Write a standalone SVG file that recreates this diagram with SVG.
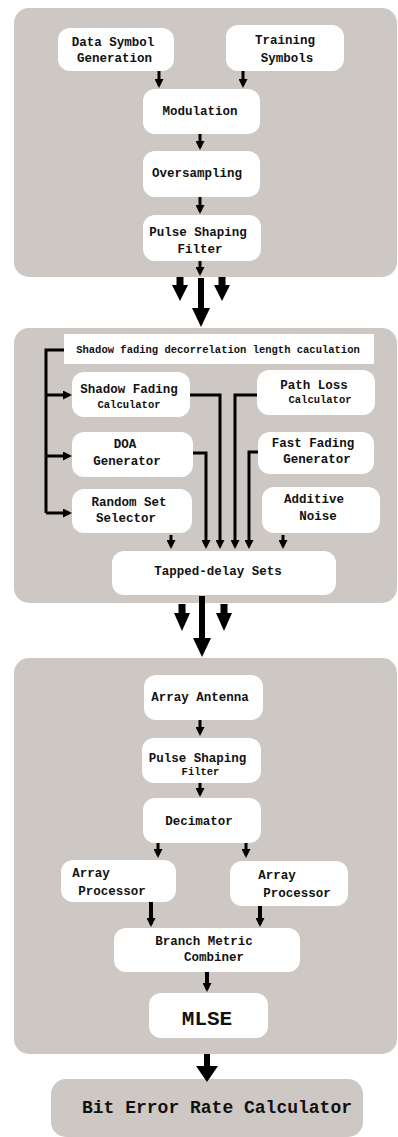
<svg xmlns="http://www.w3.org/2000/svg" width="398" height="1137" viewBox="0 0 398 1137">
<defs>
<style>
.panel{fill:#cdc8c4}
.box{fill:#ffffff}
text{font-family:"Liberation Mono","Courier New",monospace;font-weight:bold;fill:#111;text-anchor:middle}
.t{font-size:12.5px}
.s{font-size:10.5px}
.c{fill:none;stroke:#000;stroke-width:3}
.big{fill:#000}
</style>
<marker id="ah" markerUnits="userSpaceOnUse" markerWidth="9" markerHeight="9" viewBox="0 0 9 9" refX="6" refY="4.5" orient="auto">
<path d="M0,0 L9,4.5 L0,9 z" fill="#000"/>
</marker>
</defs>
<rect width="398" height="1137" fill="#fff"/>

<g id="panel-tx"><rect class="panel" x="14" y="8" width="383" height="269" rx="15"/></g>
<g id="panel-channel"><rect class="panel" x="14" y="328" width="383" height="275" rx="15"/></g>
<g id="panel-rx"><rect class="panel" x="14" y="658" width="383" height="396" rx="15"/></g>

<g id="data-symbol"><rect class="box" x="58" y="28" width="116" height="43" rx="12"/>
<text class="t" x="113" y="46">Data Symbol</text><text class="t" x="114.5" y="62">Generation</text></g>
<g id="training"><rect class="box" x="226" y="25" width="118" height="46" rx="12"/>
<text class="t" x="285" y="44">Training</text><text class="t" x="287" y="62">Symbols</text></g>
<g id="modulation"><rect class="box" x="143" y="89" width="117" height="45" rx="12"/>
<text class="t" x="200" y="115">Modulation</text></g>
<g id="oversampling"><rect class="box" x="143" y="151" width="117" height="46" rx="12"/>
<text class="t" x="197" y="177">Oversampling</text></g>
<g id="psf1"><rect class="box" x="143" y="215" width="118" height="46" rx="12"/>
<text class="t" x="198" y="236">Pulse Shaping</text><text class="t" x="200" y="253">Filter</text></g>

<g id="decorrelation"><rect class="box" x="64" y="334" width="310" height="30"/>
<text class="s" x="218" y="353">Shadow fading decorrelation length caculation</text></g>
<g id="shadow-fading"><rect class="box" x="72" y="372" width="118" height="45" rx="12"/>
<text class="t" x="129" y="393">Shadow Fading</text><text class="s" x="129" y="408">Calculator</text></g>
<g id="path-loss"><rect class="box" x="257" y="370" width="118" height="45" rx="12"/>
<text class="t" x="314" y="389">Path Loss</text><text class="s" x="320" y="403">Calculator</text></g>
<g id="doa"><rect class="box" x="72" y="432" width="121" height="45" rx="12"/>
<text class="t" x="125" y="448">DOA</text><text class="t" x="127" y="465">Generator</text></g>
<g id="fast-fading"><rect class="box" x="258" y="432" width="116" height="42" rx="12"/>
<text class="t" x="313" y="447">Fast Fading</text><text class="t" x="317" y="463">Generator</text></g>
<g id="random-set"><rect class="box" x="72" y="489" width="120" height="44" rx="12"/>
<text class="t" x="129" y="506">Random Set</text><text class="t" x="126" y="522">Selector</text></g>
<g id="additive-noise"><rect class="box" x="262" y="487" width="118" height="46" rx="12"/>
<text class="t" x="314" y="503">Additive</text><text class="t" x="318" y="520">Noise</text></g>
<g id="tapped-delay"><rect class="box" x="112" y="551" width="224" height="44" rx="12"/>
<text class="t" x="218" y="575">Tapped-delay Sets</text></g>

<g id="array-antenna"><rect class="box" x="144" y="675" width="119" height="45" rx="12"/>
<text class="t" x="200" y="701">Array Antenna</text></g>
<g id="psf2"><rect class="box" x="142" y="738" width="119" height="45" rx="12"/>
<text class="t" x="197.5" y="762">Pulse Shaping</text><text class="s" x="200.5" y="775">Filter</text></g>
<g id="decimator"><rect class="box" x="143" y="798" width="118" height="45" rx="12"/>
<text class="t" x="199" y="825">Decimator</text></g>
<g id="array-proc-1"><rect class="box" x="61" y="860" width="115" height="42" rx="12"/>
<text class="t" x="91" y="877">Array</text><text class="t" x="112" y="895">Processor</text></g>
<g id="array-proc-2"><rect class="box" x="230" y="861" width="118" height="45" rx="12"/>
<text class="t" x="277" y="879">Array</text><text class="t" x="297" y="897">Processor</text></g>
<g id="branch-metric"><rect class="box" x="114" y="928" width="186" height="44" rx="12"/>
<text class="t" x="204" y="945">Branch Metric</text><text class="t" x="214" y="961">Combiner</text></g>
<g id="mlse"><rect class="box" x="149" y="993" width="119" height="45" rx="12"/>
<text x="207" y="1025" style="font-size:21px">MLSE</text></g>

<g id="ber"><rect class="panel" x="51" y="1079" width="312" height="58" rx="15"/>
<text x="217" y="1113" style="font-size:18px">Bit Error Rate Calculator</text></g>

<g id="connectors">
<path class="c" marker-end="url(#ah)" d="M159,71 V85"/>
<path class="c" marker-end="url(#ah)" d="M243,71 V85"/>
<path class="c" marker-end="url(#ah)" d="M200,134 V147"/>
<path class="c" marker-end="url(#ah)" d="M200,197 V211"/>
<path class="c" marker-end="url(#ah)" d="M200,261 V273"/>

<polygon class="big" points="176.5,277 183.5,277 183.5,285 188,285 180,301 172,285 176.5,285"/>
<polygon class="big" points="218.5,277 225.5,277 225.5,285 230,285 222,301 214,285 218.5,285"/>
<polygon class="big" points="198,278 204,278 204,308 210,308 201,327 192,308 198,308"/>

<path class="c" d="M64,350 H46 V513"/>
<path class="c" marker-end="url(#ah)" d="M46,395 H69"/>
<path class="c" marker-end="url(#ah)" d="M46,456 H69"/>
<path class="c" marker-end="url(#ah)" d="M46,513 H69"/>
<path class="c" marker-end="url(#ah)" d="M190,395 H220 V546"/>
<path class="c" marker-end="url(#ah)" d="M257,395 H235 V546"/>
<path class="c" marker-end="url(#ah)" d="M193,453 H206 V546"/>
<path class="c" marker-end="url(#ah)" d="M258,452 H249 V546"/>
<path class="c" marker-end="url(#ah)" d="M171,535 V546"/>
<path class="c" marker-end="url(#ah)" d="M283,535 V546"/>

<polygon class="big" points="178.5,604 185.5,604 185.5,613 190,613 182,631 174,613 178.5,613"/>
<polygon class="big" points="220.5,604 227.5,604 227.5,613 232,613 224,631 216,613 220.5,613"/>
<polygon class="big" points="199,596 205,596 205,638 211,638 202,657 193,638 199,638"/>

<path class="c" marker-end="url(#ah)" d="M200,720 V733"/>
<path class="c" marker-end="url(#ah)" d="M200,783 V794"/>
<path class="c" marker-end="url(#ah)" d="M158,843 V855"/>
<path class="c" marker-end="url(#ah)" d="M246,843 V855"/>
<path class="c" marker-end="url(#ah)" d="M151,902 V924" style="stroke-width:4"/>
<path class="c" marker-end="url(#ah)" d="M260,906 V924" style="stroke-width:4"/>
<path class="c" marker-end="url(#ah)" d="M207,972 V989" style="stroke-width:4"/>

<polygon class="big" points="204,1054 210,1054 210,1066 218,1066 207,1082 196,1066 204,1066"/>
</g>
</svg>
